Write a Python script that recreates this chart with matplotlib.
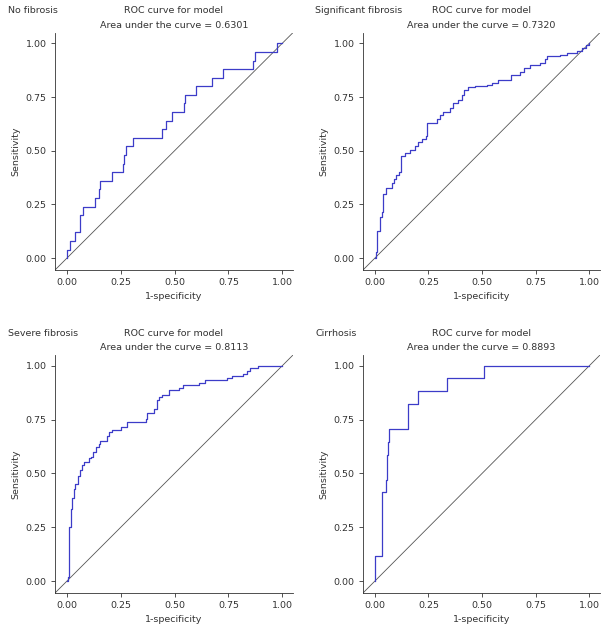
import matplotlib.pyplot as plt

plt.rcParams['font.family'] = ['DejaVu Sans']

# ROC curve corner points (1-specificity, sensitivity)
# each point: x where sensitivity jumps up to y (drawn as post-steps)
nofib_x = [0, 0, 0.015, 0.04, 0.063, 0.077, 0.131, 0.148, 0.155, 0.209, 0.26,
           0.266, 0.274, 0.309, 0.442, 0.46, 0.487, 0.543, 0.549, 0.60, 0.675,
           0.726, 0.866, 0.875, 0.978, 1.0]
nofib_y = [0, 0.04, 0.08, 0.12, 0.20, 0.24, 0.28, 0.32, 0.36, 0.40, 0.44,
           0.48, 0.52, 0.56, 0.60, 0.64, 0.68, 0.72, 0.76, 0.80, 0.84,
           0.88, 0.92, 0.96, 1.0, 1.0]

sig_x = [0, 0.005, 0.012, 0.022, 0.032, 0.04, 0.05, 0.08, 0.09, 0.10, 0.113,
         0.121, 0.14, 0.165, 0.188, 0.20, 0.22, 0.239, 0.242, 0.29, 0.304,
         0.32, 0.351, 0.366, 0.39, 0.405, 0.416, 0.436, 0.467, 0.522, 0.545,
         0.576, 0.635, 0.677, 0.696, 0.724, 0.77, 0.793, 0.804, 0.863, 0.894,
         0.941, 0.964, 0.984, 0.997, 1.0]
sig_y = [0, 0.03, 0.127, 0.19, 0.216, 0.30, 0.325, 0.35, 0.37, 0.387, 0.40,
         0.475, 0.49, 0.503, 0.52, 0.542, 0.553, 0.568, 0.627, 0.65, 0.666,
         0.68, 0.697, 0.72, 0.736, 0.76, 0.783, 0.795, 0.80, 0.806, 0.817,
         0.83, 0.853, 0.868, 0.884, 0.90, 0.91, 0.925, 0.941, 0.946, 0.957,
         0.966, 0.977, 0.992, 1.0, 1.0]

sev_x = [0, 0.005, 0.011, 0.019, 0.025, 0.034, 0.04, 0.05, 0.062, 0.071, 0.08,
         0.105, 0.111, 0.121, 0.136, 0.148, 0.155, 0.185, 0.198, 0.209, 0.25,
         0.281, 0.366, 0.371, 0.405, 0.417, 0.43, 0.44, 0.474, 0.521, 0.541,
         0.613, 0.641, 0.745, 0.765, 0.819, 0.835, 0.85, 0.889, 1.0]
sev_y = [0, 0.02, 0.25, 0.337, 0.384, 0.43, 0.453, 0.49, 0.515, 0.539, 0.551,
         0.57, 0.577, 0.60, 0.624, 0.639, 0.65, 0.673, 0.693, 0.704, 0.717,
         0.737, 0.755, 0.779, 0.80, 0.84, 0.856, 0.864, 0.887, 0.898, 0.91,
         0.921, 0.933, 0.941, 0.952, 0.964, 0.975, 0.988, 1.0, 1.0]

cir_x = [0, 0.003, 0.034, 0.05, 0.055, 0.058, 0.063, 0.068, 0.153, 0.156,
         0.202, 0.336, 0.508, 1.0]
cir_y = [0, 0.118, 0.412, 0.471, 0.529, 0.588, 0.647, 0.706, 0.765, 0.824,
         0.882, 0.941, 1.0, 1.0]

names = ["No fibrosis", "Significant fibrosis", "Severe fibrosis", "Cirrhosis"]
aucs = ["0.6301", "0.7320", "0.8113", "0.8893"]
curves = [(nofib_x, nofib_y), (sig_x, sig_y), (sev_x, sev_y), (cir_x, cir_y)]
ticks = [0.0, 0.25, 0.5, 0.75, 1.0]
tick_labels = ["0.00", "0.25", "0.50", "0.75", "1.00"]

W, H = 608, 631
fig = plt.figure(figsize=(W / 100, H / 100), dpi=100)

# axes boxes in pixels: left, top, right, bottom
boxes = [(55, 32.6, 293, 270), (363, 32.6, 600, 270),
         (55, 355, 293, 593), (363, 355, 600, 593)]
lo, hi = -0.055, 1.05
fs = 6.8
line_col = '#3c3cc8'
ink = '#333333'

for i, (l, t, r, b) in enumerate(boxes):
    ax = fig.add_axes([l / W, 1 - b / H, (r - l) / W, (b - t) / H])
    ax.plot([lo, hi], [lo, hi], color='#555555', lw=0.6)
    x, y = curves[i]
    ax.step(x, y, where='post', color=line_col, lw=0.9)
    ax.set_xlim(lo, hi)
    ax.set_ylim(lo, hi)
    ax.set_xticks(ticks)
    ax.set_xticklabels(tick_labels)
    ax.set_yticks(ticks)
    ax.set_yticklabels(tick_labels)
    ax.tick_params(labelsize=fs, length=3, width=0.6, colors=ink, pad=3)
    for s in ['top', 'right']:
        ax.spines[s].set_visible(False)
    for s in ['left', 'bottom']:
        ax.spines[s].set_linewidth(0.6)
        ax.spines[s].set_color(ink)
    ax.set_xlabel("1-specificity", fontsize=fs, color=ink, labelpad=3)
    ax.set_ylabel("Sensitivity", fontsize=fs, color=ink, labelpad=4)

    cx = (l + r) / 2 / W
    left_x = 8 if i % 2 == 0 else 315
    fig.text(left_x / W, 1 - (t - 22) / H, names[i], fontsize=fs, color=ink,
             va='center', ha='left')
    fig.text(cx, 1 - (t - 22) / H, "ROC curve for model", fontsize=fs,
             color=ink, va='center', ha='center')
    fig.text(cx, 1 - (t - 7.5) / H, "Area under the curve = " + aucs[i],
             fontsize=fs, color=ink, va='center', ha='center')

fig.savefig("out.png", dpi=100)
